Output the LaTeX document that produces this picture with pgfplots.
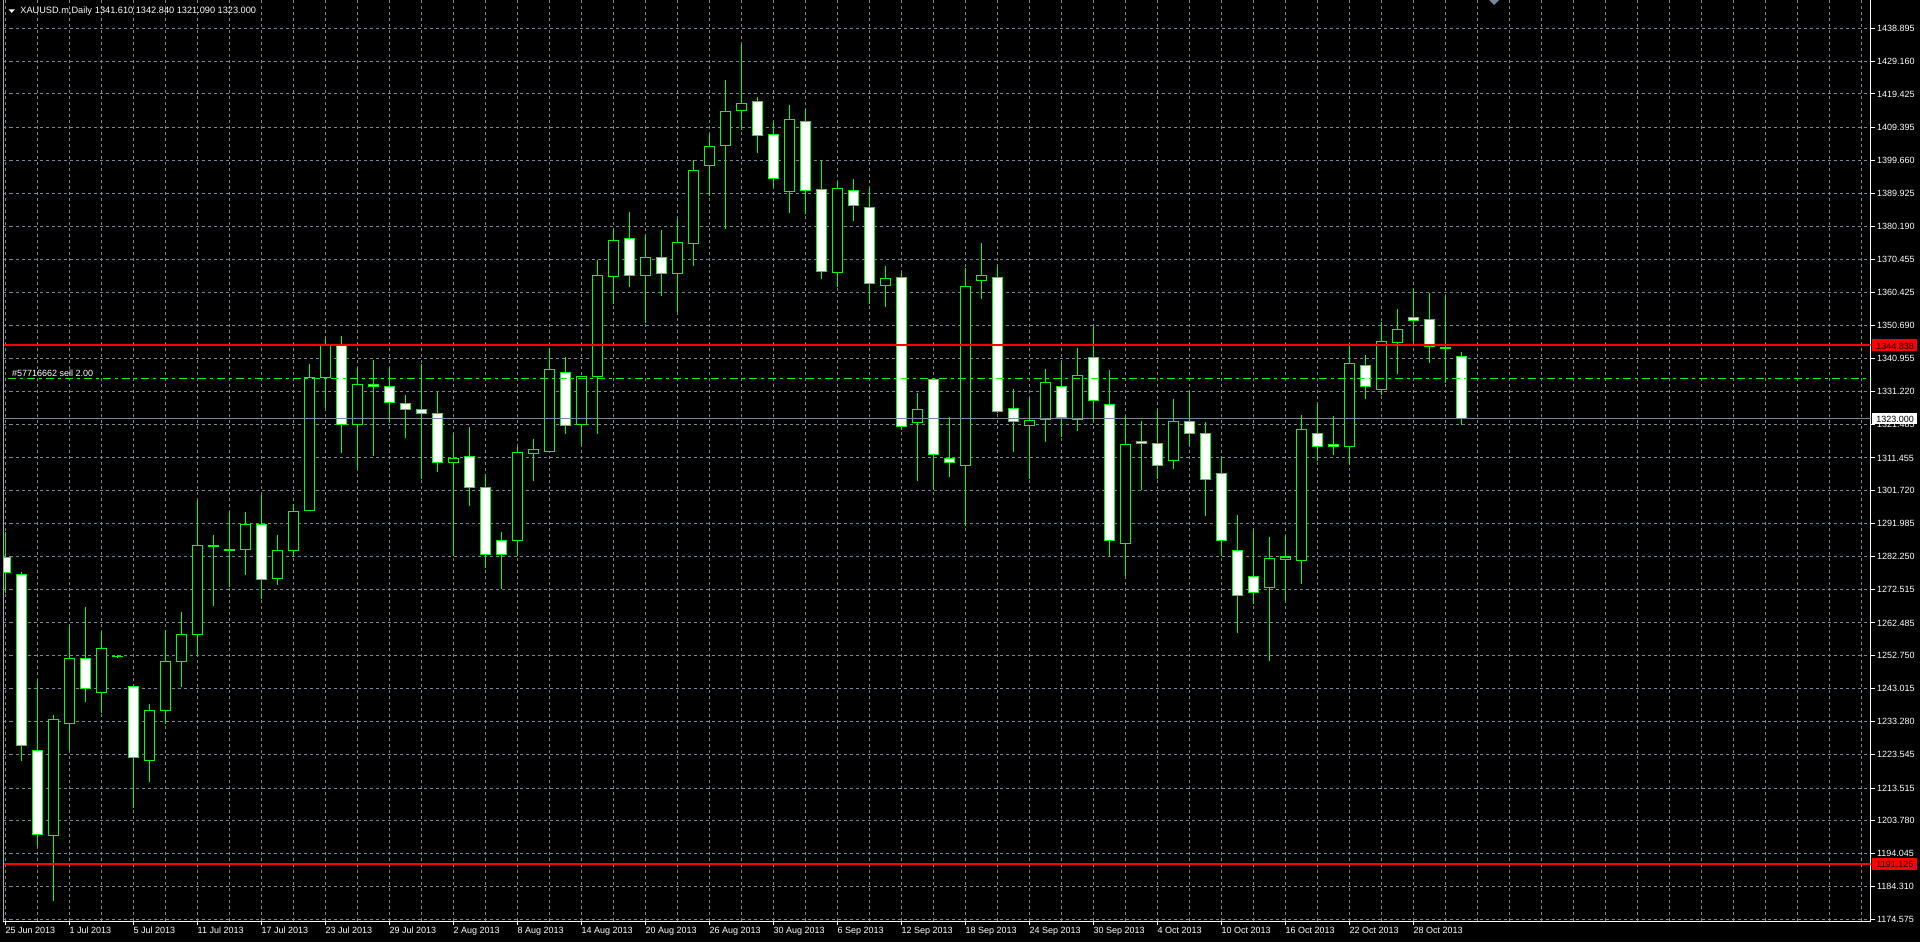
\documentclass[border=0pt]{standalone}
\usepackage{pgfplots}
\pgfplotsset{compat=1.18}
\usepackage{pgfplotstable}
\usepackage{fontspec}
\setmainfont{Liberation Sans}
\newlength\px \setlength\px{0.5pt}
\definecolor{cgreen}{RGB}{0,255,0}
\definecolor{gridc}{RGB}{119,136,153}
\definecolor{mtred}{RGB}{255,0,0}
\definecolor{lbord}{RGB}{170,170,170}

\pgfplotstableread{
i O H L C
0 1281.96 1289.37 1271.48 1277.41
1 1276.91 1277.71 1221.60 1226.19
2 1224.70 1245.27 1196.43 1199.79
3 1199.49 1235.19 1180.11 1233.90
4 1232.71 1261.59 1224.80 1252.00
5 1252.00 1267.22 1239.14 1243.10
6 1241.81 1259.81 1235.88 1254.96
7 1252.60 1252.90 1252.20 1252.60
8 1243.69 1243.80 1207.50 1222.63
9 1221.74 1238.45 1215.41 1236.57
10 1236.57 1260.40 1232.52 1251.11
11 1251.11 1265.74 1243.59 1259.12
12 1259.12 1298.97 1253.28 1285.52
13 1285.50 1288.58 1267.62 1285.30
14 1284.20 1295.21 1273.26 1284.00
15 1284.23 1295.41 1276.82 1291.75
16 1291.75 1300.65 1269.70 1275.43
17 1275.63 1288.58 1273.75 1284.03
18 1283.94 1297.78 1282.16 1295.60
19 1295.90 1339.31 1295.60 1335.35
20 1335.25 1346.92 1326.35 1344.84
21 1344.76 1347.61 1313.00 1321.41
22 1321.41 1338.02 1308.55 1333.27
23 1333.27 1340.49 1312.02 1332.68
24 1332.68 1338.02 1322.50 1327.94
25 1327.54 1330.01 1317.45 1325.86
26 1325.76 1339.21 1305.29 1324.67
27 1324.57 1331.00 1307.27 1310.14
28 1310.14 1318.44 1282.35 1311.32
29 1311.92 1320.62 1297.28 1302.72
30 1302.72 1306.58 1278.69 1282.85
31 1287.00 1289.47 1272.66 1282.85
32 1287.00 1314.79 1282.45 1313.10
33 1312.81 1317.06 1304.70 1313.99
34 1313.30 1344.05 1313.30 1337.73
35 1336.83 1341.38 1318.54 1321.01
36 1321.31 1335.65 1315.58 1335.65
37 1335.65 1370.16 1318.54 1365.61
38 1365.22 1379.36 1357.01 1376.00
39 1376.59 1384.40 1362.25 1365.51
40 1365.51 1377.58 1351.57 1370.95
41 1370.95 1379.06 1359.58 1366.11
42 1366.11 1382.42 1354.83 1375.40
43 1375.10 1399.73 1368.48 1396.76
44 1398.24 1407.44 1389.15 1403.88
45 1404.08 1423.56 1379.46 1414.26
46 1414.56 1434.24 1408.73 1416.64
47 1417.23 1418.61 1402.00 1407.04
48 1407.44 1411.00 1391.92 1394.29
49 1390.43 1416.14 1384.20 1411.89
50 1411.30 1414.95 1383.71 1390.73
51 1391.03 1399.73 1364.62 1366.70
52 1366.40 1393.20 1362.25 1391.42
53 1390.73 1394.19 1381.83 1386.38
54 1385.78 1391.42 1357.01 1363.24
55 1362.55 1368.38 1356.32 1364.72
56 1365.02 1366.40 1319.73 1320.82
57 1322.00 1330.71 1304.70 1325.86
58 1334.76 1335.06 1301.93 1312.51
59 1311.23 1323.49 1305.89 1310.24
60 1309.15 1367.79 1291.35 1362.35
61 1364.13 1375.20 1358.49 1365.61
62 1365.02 1368.18 1324.67 1325.27
63 1326.16 1331.79 1313.20 1322.30
64 1321.02 1329.22 1305.29 1322.60
65 1322.89 1337.83 1316.17 1333.87
66 1332.68 1339.80 1317.75 1323.39
67 1322.89 1344.06 1319.53 1335.95
68 1341.29 1350.58 1322.50 1328.53
69 1327.35 1337.53 1282.25 1287.00
70 1286.11 1323.88 1276.52 1315.48
71 1316.37 1322.40 1301.83 1315.78
72 1315.78 1325.66 1305.29 1309.15
73 1310.63 1328.93 1308.26 1322.30
74 1322.30 1330.91 1315.28 1318.65
75 1318.74 1322.01 1294.32 1305.00
76 1306.88 1311.62 1282.26 1287.00
77 1284.04 1294.52 1259.61 1270.69
78 1276.32 1290.07 1268.02 1271.58
79 1273.06 1287.99 1251.30 1281.66
80 1281.37 1288.29 1269.01 1282.06
81 1280.97 1324.18 1274.05 1319.93
82 1318.65 1327.35 1310.64 1314.89
83 1315.48 1323.89 1312.42 1314.89
84 1314.89 1344.65 1309.25 1339.51
85 1338.92 1341.98 1329.03 1332.59
86 1331.80 1351.87 1330.02 1346.04
87 1345.74 1355.53 1336.44 1349.60
88 1353.06 1361.46 1345.94 1352.36
89 1352.56 1360.47 1339.71 1344.55
90 1344.30 1359.48 1333.77 1344.00
91 1341.61 1342.84 1321.09 1323.00
}\candles

\pgfplotsset{
  stick/.style={only marks, mark=*, mark size=0pt,
    mark options={draw=none, fill=none},
    error bars/.cd, y dir=minus, y explicit, error mark=none,
    error bar style={#1}},
}

\begin{document}
\begin{tikzpicture}
\useasboundingbox (0,0) rectangle (1920\px,-942\px);
\fill[black] (0,0) rectangle (1920\px,-942\px);
\begin{axis}[
  at={(3.5\px,0pt)}, anchor=north west,
  scale only axis, width=1867.2\px, height=921\px,
  xmin=-0.1125, xmax=116.59, ymin=1174.08, ymax=1447.29,
  axis x line*=bottom, axis y line*=right,
  axis line style={-, white, line width=1\px},
  tick align=outside,
  major tick length=4\px, minor tick length=0pt,
  tick style={white, line width=1\px},
  xtick={0,4,...,88},
  minor xtick={2,6,...,86,90,92,...,116},
  xticklabels={25 Jun 2013, 1 Jul 2013, 5 Jul 2013, 11 Jul 2013, 17 Jul 2013, 23 Jul 2013, 29 Jul 2013, 2 Aug 2013, 8 Aug 2013, 14 Aug 2013, 20 Aug 2013, 26 Aug 2013, 30 Aug 2013, 6 Sep 2013, 12 Sep 2013, 18 Sep 2013, 24 Sep 2013, 30 Sep 2013, 4 Oct 2013, 10 Oct 2013, 16 Oct 2013, 22 Oct 2013, 28 Oct 2013},
  ytick={1174.575,1184.310,1194.045,1203.780,1213.515,1223.545,1233.280,1243.015,1252.750,1262.485,1272.515,1282.250,1291.985,1301.720,1311.455,1321.485,1331.220,1340.955,1350.690,1360.425,1370.455,1380.190,1389.925,1399.660,1409.395,1419.425,1429.160,1438.895},
  yticklabels={1174.575,1184.310,1194.045,1203.780,1213.515,1223.545,1233.280,1243.015,1252.750,1262.485,1272.515,1282.250,1291.985,1301.720,1311.455,1321.485,1331.220,1340.955,1350.690,1360.425,1370.455,1380.190,1389.925,1399.660,1409.395,1419.425,1429.160,1438.895},
  grid=both,
  major grid style={gridc, line width=1\px, dash pattern=on 3\px off 3\px},
  minor grid style={gridc, line width=1\px, dash pattern=on 3\px off 3\px},
  tick label style={font=\fontsize{4.5}{5.4}\selectfont, text=white, inner sep=0pt},
  xticklabel style={anchor=north west, yshift=-2\px},
  yticklabel style={anchor=west, xshift=2\px},
  clip mode=individual,
]
% wicks: from high down to low
\addplot[stick={cgreen, line width=1\px}]
  table[x=i, y=H, y error expr=\thisrow{H}-\thisrow{L}] {\candles};
% body outlines (green), every candle
\addplot[stick={cgreen, line width=10.6\px}]
  table[x=i, y expr={max(\thisrow{O},\thisrow{C})+0.15},
        y error expr={abs(\thisrow{O}-\thisrow{C})+0.3}] {\candles};
% bearish bodies: white fill
\addplot[stick={white, line width=8.6\px}]
  table[x=i, y expr={(\thisrow{C}<\thisrow{O}-0.35) ? \thisrow{O}-0.15 : nan},
        y error expr={\thisrow{O}-\thisrow{C}-0.3}] {\candles};
% bullish bodies: black fill
\addplot[stick={black, line width=8.6\px}]
  table[x=i, y expr={(\thisrow{C}>\thisrow{O}+0.35) ? \thisrow{C}-0.15 : nan},
        y error expr={\thisrow{C}-\thisrow{O}-0.3}] {\candles};
% horizontal levels
\addplot[gridc, line width=1\px] coordinates {(-1,1323.000) (120,1323.000)};
\addplot[cgreen, line width=1\px, dash pattern=on 8\px off 4\px on 3\px off 4\px] coordinates {(-1,1335.0) (120,1335.0)};
\addplot[mtred, line width=2\px] coordinates {(-1,1344.838) (120,1344.838)};
\addplot[mtred, line width=2\px] coordinates {(-1,1191.126) (120,1191.126)};
\draw[lbord, line width=1\px] (rel axis cs:0,0) -- (rel axis cs:0,1);
\end{axis}
% title and labels
\fill[white] (8.5\px,-9.3\px) -- (15\px,-9.3\px) -- (11.75\px,-12.8\px) -- cycle;
\node[anchor=base west, inner sep=0pt, text=white, font=\fontsize{4.6}{5.5}\selectfont] at (20\px,-13.5\px) {XAUUSD.m,Daily\hspace{3\px}1341.610 1342.840 1321.090 1323.000};
\node[anchor=base west, inner sep=0pt, text=white, font=\fontsize{4.5}{5.4}\selectfont] at (11.7\px,-376\px) {\#57716662 sell 2.00};
\fill[gridc] (1489\px,0pt) -- (1499\px,0pt) -- (1494\px,-5\px) -- cycle;
% price boxes
\fill[mtred] (1872\px,-339\px) rectangle (1917\px,-351\px);
\node[anchor=base west, inner sep=0pt, text=black, font=\fontsize{4.5}{5.4}\selectfont] at (1876\px,-349.2\px) {1344.838};
\fill[mtred] (1872\px,-857.5\px) rectangle (1917\px,-869.5\px);
\node[anchor=base west, inner sep=0pt, text=black, font=\fontsize{4.5}{5.4}\selectfont] at (1876\px,-867.7\px) {1191.126};
\fill[white] (1872\px,-412.5\px) rectangle (1917\px,-424\px);
\node[anchor=base west, inner sep=0pt, text=black, font=\fontsize{4.5}{5.4}\selectfont] at (1876\px,-422\px) {1323.000};
\end{tikzpicture}
\end{document}
